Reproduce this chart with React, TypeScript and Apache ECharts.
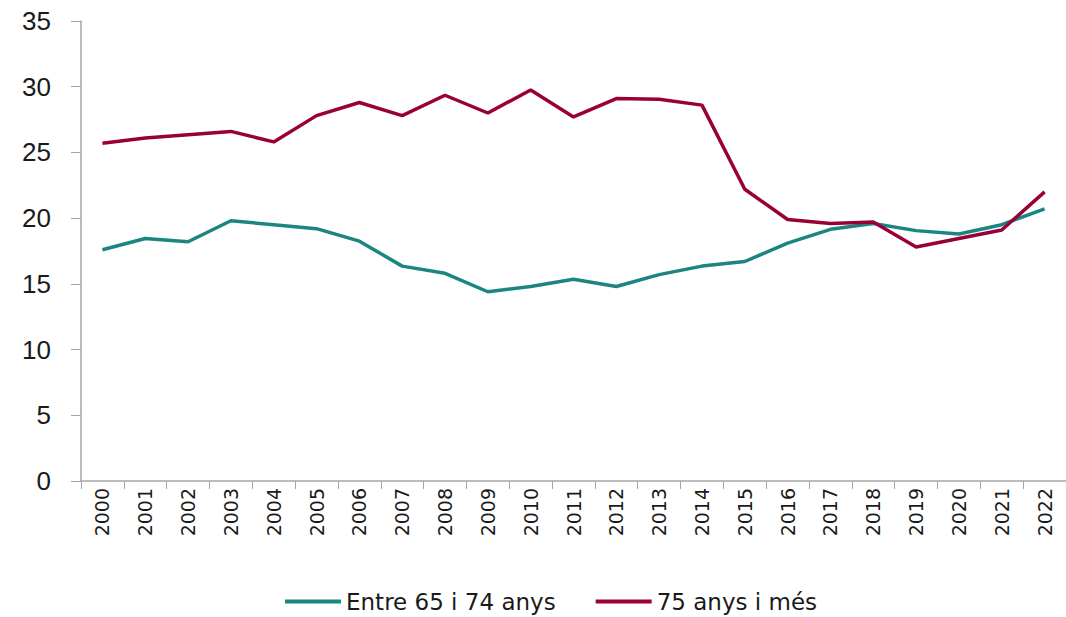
import React, { useEffect, useRef } from "react";
import * as echarts from "echarts";

const years = ["2000","2001","2002","2003","2004","2005","2006","2007","2008","2009","2010","2011","2012","2013","2014","2015","2016","2017","2018","2019","2020","2021","2022"];
const seriesNames = ["Entre 65 i 74 anys", "75 anys i més"];
const age65to74 = [17.6,18.45,18.2,19.8,19.5,19.2,18.25,16.35,15.8,14.4,14.8,15.35,14.8,15.7,16.35,16.7,18.1,19.15,19.6,19.05,18.8,19.5,20.7];
const age75plus = [25.7,26.1,26.35,26.6,25.8,27.8,28.8,27.8,29.35,28.0,29.75,27.7,29.1,29.05,28.6,22.2,19.9,19.6,19.7,17.8,18.45,19.1,22.0];
const colors = ["#1b8580", "#9a0038"];

export default function App() {
  const ref = useRef<HTMLDivElement>(null);
  useEffect(() => {
    if (!ref.current) return;
    const chart = echarts.init(ref.current, undefined, { renderer: "svg" });
    const font = "Liberation Sans, Arial, sans-serif";
    const wide = "DejaVu Sans, sans-serif";
    chart.setOption({
      animation: false,
      grid: { left: 81, right: -4, top: 21, bottom: 136, containLabel: false },
      legend: {
        left: 280,
        top: 585,
        itemWidth: 56,
        itemHeight: 4,
        itemGap: 40,
        icon: "rect",
        textStyle: { fontSize: 23, color: "#1a1a1a", fontFamily: wide },
        data: seriesNames,
      },
      xAxis: {
        type: "category",
        data: years,
        boundaryGap: true,
        axisLine: { lineStyle: { color: "#a6a6a6", width: 1.5 } },
        axisTick: { show: true, length: 8, alignWithLabel: false, lineStyle: { color: "#a6a6a6" } },
        axisLabel: { rotate: 90, fontSize: 19, color: "#1a1a1a", fontFamily: wide, margin: 7, interval: 0 },
        splitLine: { show: false },
      },
      yAxis: {
        type: "value",
        min: 0,
        max: 35,
        interval: 5,
        axisLine: { show: true, lineStyle: { color: "#a6a6a6", width: 1.5 } },
        axisTick: { show: true, length: 10, lineStyle: { color: "#a6a6a6" } },
        axisLabel: { fontSize: 26, color: "#1a1a1a", fontFamily: font, margin: 30 },
        splitLine: { show: false },
      },
      series: [
        {
          name: seriesNames[0],
          type: "line",
          data: age65to74,
          showSymbol: false,
          symbol: "none",
          lineStyle: { width: 3.5, color: colors[0] },
          itemStyle: { color: colors[0] },
        },
        {
          name: seriesNames[1],
          type: "line",
          data: age75plus,
          showSymbol: false,
          symbol: "none",
          lineStyle: { width: 3.5, color: colors[1] },
          itemStyle: { color: colors[1] },
        },
      ],
    });
    return () => chart.dispose();
  }, []);
  return (
    <div
      ref={ref}
      style={{ position: "fixed", left: 0, top: 0, width: 1066, height: 617, background: "#fff" }}
    />
  );
}
